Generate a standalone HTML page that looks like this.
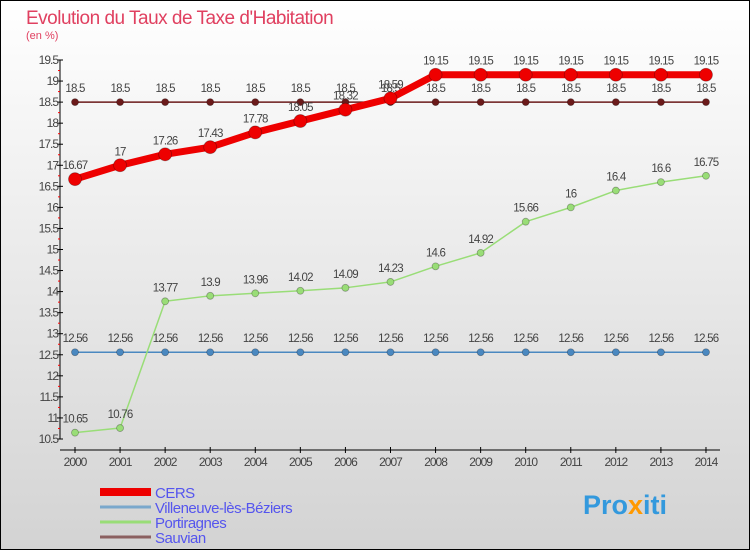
<!DOCTYPE html>
<html><head><meta charset="utf-8"><style>
body{margin:0;width:750px;height:550px;overflow:hidden;font-family:"Liberation Sans",sans-serif}
</style></head><body>
<svg id="c" width="750" height="550" xmlns="http://www.w3.org/2000/svg">
<defs><linearGradient id="bg" x1="0" y1="0" x2="0" y2="1"><stop offset="0" stop-color="#ffffff"/><stop offset="1" stop-color="#d3d3d3"/></linearGradient></defs>
<rect x="0.5" y="0.5" width="749" height="549" fill="url(#bg)" stroke="#000"/>
<text x="26" y="24" font-size="19" fill="#e04060" letter-spacing="-0.5">Evolution du Taux de Taxe d'Habitation</text>
<text x="26" y="39" font-size="11" fill="#e04060">(en %)</text>
<g id="axes"></g><g id="series"></g><g id="legend"></g>
<text x="583" y="514" font-size="27" font-weight="bold" fill="#3399dd">Pro<tspan fill="#ff9900">x</tspan>iti</text>
</svg>
<script>
const years=[2000,2001,2002,2003,2004,2005,2006,2007,2008,2009,2010,2011,2012,2013,2014];
const cers=[16.67,17,17.26,17.43,17.78,18.05,18.32,18.59,19.15,19.15,19.15,19.15,19.15,19.15,19.15];
const villeneuve=[12.56,12.56,12.56,12.56,12.56,12.56,12.56,12.56,12.56,12.56,12.56,12.56,12.56,12.56,12.56];
const portiragnes=[10.65,10.76,13.77,13.9,13.96,14.02,14.09,14.23,14.6,14.92,15.66,16,16.4,16.6,16.75];
const sauvian=[18.5,18.5,18.5,18.5,18.5,18.5,18.5,18.5,18.5,18.5,18.5,18.5,18.5,18.5,18.5];
const yTicks=[10.5,11,11.5,12,12.5,13,13.5,14,14.5,15,15.5,16,16.5,17,17.5,18,18.5,19,19.5];
const NS="http://www.w3.org/2000/svg";
const X=i=>75+i*45.07, Y=v=>60+(19.5-v)*42.11;
function mk(t,a,p){const e=document.createElementNS(NS,t);for(const k in a)e.setAttribute(k,a[k]);p.appendChild(e);return e;}
const ax=document.getElementById('axes');
let e=mk('line',{x1:60,y1:60,x2:60,y2:439,stroke:'#000'},ax);


e=mk('line',{x1:60,y1:450,x2:720,y2:450,stroke:'#000'},ax);


yTicks.forEach((v,i)=>{
 mk('line',{x1:57,y1:Y(v),x2:63,y2:Y(v),stroke:'#000'},ax);
 if(i<yTicks.length-1) mk('line',{x1:58,y1:Y(v+0.25),x2:60,y2:Y(v+0.25),stroke:'#f00'},ax);
 const t=mk('text',{x:58,y:Y(v)+4,'font-size':12,'text-anchor':'end',fill:'#444','letter-spacing':'-1'},ax);
 t.textContent=String(v);
 
 
});
years.forEach((y,i)=>{
 mk('line',{x1:X(i),y1:447,x2:X(i),y2:453,stroke:'#000'},ax);
 const t=mk('text',{x:X(i),y:466,'font-size':12,'text-anchor':'middle',fill:'#444','letter-spacing':'-1'},ax);
 t.textContent=String(y);
 
 
});
const sg=document.getElementById('series');
function series(vals,color,w,r,name){
 const g=mk('g',{},sg);
 
 
 const pl=mk('polyline',{points:vals.map((v,i)=>X(i)+','+Y(v)).join(' '),fill:'none',stroke:color,'stroke-width':w,'stroke-linejoin':'round'},g);
 
 
 vals.forEach((v,i)=>{
  const c=mk('circle',{cx:X(i),cy:Y(v),r:r,fill:color,stroke:'rgba(0,0,0,0.3)','stroke-width':0.8},g);
  
  
  const t=mk('text',{x:X(i),y:Y(v)-10,'font-size':11.5,'text-anchor':'middle',fill:'#444','letter-spacing':'-0.8'},g);
  t.textContent=String(v);
  
  
 });
}
series(sauvian,'#6b1a1a',1.5,3.5,'sauvian');
series(villeneuve,'#4a88c0',1.5,3.5,'villeneuve');
series(portiragnes,'#99dd77',1.5,3.5,'portiragnes');
series(cers,'#ee0000',7,6.5,'cers');
const lg=document.getElementById('legend');
[['CERS','#ee0000',8],['Villeneuve-lès-Béziers','#7aa8cc',3],['Portiragnes','#99dd77',3],['Sauvian','#8b6060',3]].forEach((d,i)=>{
 const y=492+i*15;
 const l=mk('line',{x1:100,y1:y,x2:151,y2:y,stroke:d[1],'stroke-width':d[2]},lg);
 
 
 const t=mk('text',{x:155,y:y+6,'font-size':15,fill:'#5555ee','letter-spacing':'-0.5'},lg);
 t.textContent=d[0];
 
 
});
</script>
</body></html>
